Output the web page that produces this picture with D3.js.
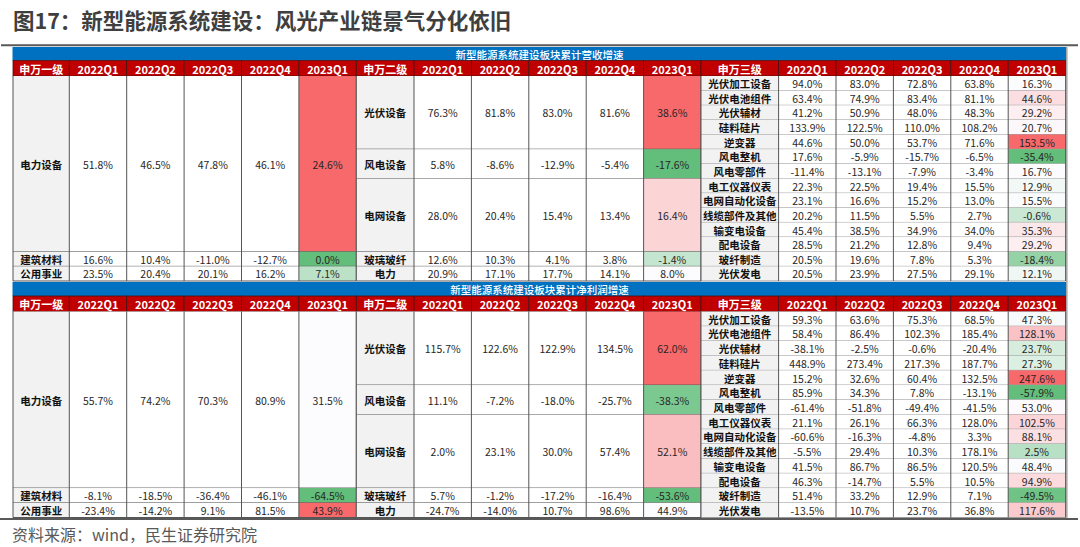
<!DOCTYPE html>
<html><head><meta charset="utf-8">
<script src="https://cdn.jsdelivr.net/npm/d3@7"></script>
<style>body{margin:0;background:#fff}svg{display:block}</style>
</head><body><svg id="c" width="1080" height="547"></svg>
<script>
// ---------- data ----------
const chartTitle = "图17：新型能源系统建设：风光产业链景气分化依旧";
const sourceNote = "资料来源：wind，民生证券研究院";
const tableTitles = ["新型能源系统建设板块累计营收增速", "新型能源系统建设板块累计净利润增速"];
const levelHeaders = ["申万一级", "申万二级", "申万三级"];
const quarters = ["2022Q1", "2022Q2", "2022Q3", "2022Q4", "2023Q1"];

const level1Names = ["电力设备", "建筑材料", "公用事业"];
const level1Spans = [12, 1, 1];
const level2Names = ["光伏设备", "风电设备", "电网设备", "玻璃玻纤", "电力"];
const level2Spans = [5, 2, 5, 1, 1];
const level3Names = ["光伏加工设备", "光伏电池组件", "光伏辅材", "硅料硅片", "逆变器", "风电整机", "风电零部件",
  "电工仪器仪表", "电网自动化设备", "线缆部件及其他", "输变电设备", "配电设备", "玻纤制造", "光伏发电"];
const level3Spans = level3Names.map(() => 1);

// 累计营收增速 (%)
const revenueL1 = [
  [51.8, 46.5, 47.8, 46.1, 24.6],
  [16.6, 10.4, -11.0, -12.7, 0.0],
  [23.5, 20.4, 20.1, 16.2, 7.1]
];
const revenueL2 = [
  [76.3, 81.8, 83.0, 81.6, 38.6],
  [5.8, -8.6, -12.9, -5.4, -17.6],
  [28.0, 20.4, 15.4, 13.4, 16.4],
  [12.6, 10.3, 4.1, 3.8, -1.4],
  [20.9, 17.1, 17.7, 14.1, 8.0]
];
const revenueL3 = [
  [94.0, 83.0, 72.8, 63.8, 16.3],
  [63.4, 74.9, 83.4, 81.1, 44.6],
  [41.2, 50.9, 48.0, 48.3, 29.2],
  [133.9, 122.5, 110.0, 108.2, 20.7],
  [44.6, 50.0, 53.7, 71.6, 153.5],
  [17.6, -5.9, -15.7, -6.5, -35.4],
  [-11.4, -13.1, -7.9, -3.4, 16.7],
  [22.3, 22.5, 19.4, 15.5, 12.9],
  [23.1, 16.6, 15.2, 13.0, 15.5],
  [20.2, 11.5, 5.5, 2.7, -0.6],
  [45.4, 38.5, 34.9, 34.0, 35.3],
  [28.5, 21.2, 12.8, 9.4, 29.2],
  [20.5, 19.6, 7.8, 5.3, -18.4],
  [20.5, 23.9, 27.5, 29.1, 12.1]
];
// 累计净利润增速 (%)
const profitL1 = [
  [55.7, 74.2, 70.3, 80.9, 31.5],
  [-8.1, -18.5, -36.4, -46.1, -64.5],
  [-23.4, -14.2, 9.1, 81.5, 43.9]
];
const profitL2 = [
  [115.7, 122.6, 122.9, 134.5, 62.0],
  [11.1, -7.2, -18.0, -25.7, -38.3],
  [2.0, 23.1, 30.0, 57.4, 52.1],
  [5.7, -1.2, -17.2, -16.4, -53.6],
  [-24.7, -14.0, 10.7, 98.6, 44.9]
];
const profitL3 = [
  [59.3, 63.6, 75.3, 68.5, 47.3],
  [58.4, 86.4, 102.3, 185.4, 128.1],
  [-38.1, -2.5, -0.6, -20.4, 23.7],
  [448.9, 273.4, 217.3, 187.7, 27.3],
  [15.2, 32.6, 60.4, 132.5, 247.6],
  [85.9, 34.3, 7.8, -13.1, -57.9],
  [-61.4, -51.8, -49.4, -41.5, 53.0],
  [21.1, 26.1, 66.3, 128.0, 102.5],
  [-60.6, -16.3, -4.8, 3.3, 88.1],
  [-5.5, 29.4, 10.3, 178.1, 2.5],
  [41.5, 86.7, 86.5, 120.5, 48.4],
  [46.3, -14.7, 5.5, 10.5, 94.9],
  [51.4, 33.2, 12.9, 7.1, -49.5],
  [-13.5, 10.7, 23.7, 36.8, 117.6]
];
// colour-scale midpoint per level (null = median of the highlighted column)
const revenueMids = [12.3, null, null];
const profitMids = [null, null, null];

// ---------- layout ----------
const FONT = "'Noto Sans CJK SC','Microsoft YaHei',sans-serif";
const svg = d3.select("#c");
const X0 = 13, X1 = 1066;
const nameW = [56.3, 57.7, 77.6], valW = 57.4;
const groupStart = [X0];
groupStart.push(groupStart[0] + nameW[0] + 5 * valW);
groupStart.push(groupStart[1] + nameW[1] + 5 * valW);

const tables = [
  {title: tableTitles[0], data: [revenueL1, revenueL2, revenueL3], mids: revenueMids,
   bandTop: 47, headTop: 60.5, bodyTop: 76, bodyBottom: 281},
  {title: tableTitles[1], data: [profitL1, profitL2, profitL3], mids: profitMids,
   bandTop: 282, headTop: 296, bodyTop: 311.5, bodyBottom: 517.5}
];
const levelNames = [level1Names, level2Names, level3Names];
const levelSpans = [level1Spans, level2Spans, level3Spans];

// title
svg.append("text").attr("x", 13).attr("y", 19).attr("dominant-baseline", "central")
  .attr("font-family", FONT).attr("font-size", 21.5).attr("font-weight", "bold")
  .attr("fill", "#3f3f3f").text(chartTitle);

svg.append("line").attr("x1", 1).attr("x2", 1078).attr("y1", 45.3).attr("y2", 45.3)
  .attr("stroke", "#595959").attr("stroke-width", 2);

tables.forEach(t => {
  const g = svg.append("g");
  // blue band
  g.append("rect").attr("x", X0 - 0.5).attr("y", t.bandTop).attr("width", X1 - X0 + 0.5)
    .attr("height", t.headTop - t.bandTop).attr("fill", "#0070C0");
  g.append("text").attr("x", (X0 + X1) / 2).attr("y", (t.bandTop + t.headTop) / 2 + 0.5)
    .attr("text-anchor", "middle").attr("dominant-baseline", "central")
    .attr("font-family", FONT).attr("font-size", 10.5).attr("font-weight", 500)
    .attr("fill", "#fff").text(t.title);

  const y = d3.scaleBand().domain(d3.range(level3Names.length)).range([t.bodyTop, t.bodyBottom]);
  const rowH = y.bandwidth();

  levelHeaders.forEach((hdr, li) => {
    const xs = groupStart[li];
    const xq = d3.scaleBand().domain(quarters).range([xs + nameW[li], xs + nameW[li] + 5 * valW]);
    // header
    const heads = [{x: xs, w: nameW[li], label: hdr}].concat(quarters.map(q => ({x: xq(q), w: xq.bandwidth(), label: q})));
    g.selectAll(null).data(heads).enter().append("rect")
      .attr("x", d => d.x).attr("y", t.headTop).attr("width", d => d.w).attr("height", t.bodyTop - t.headTop)
      .attr("fill", "#C00000").attr("stroke", "#4a1010").attr("stroke-width", 0.8);
    g.selectAll(null).data(heads).enter().append("text")
      .attr("x", d => d.x + d.w / 2).attr("y", (t.headTop + t.bodyTop) / 2 + 0.5)
      .attr("text-anchor", "middle").attr("dominant-baseline", "central")
      .attr("font-family", FONT).attr("font-size", 11).attr("font-weight", "bold")
      .attr("fill", "#fff").text(d => d.label);

    // body groups
    const spans = levelSpans[li];
    const starts = spans.map((s, i) => d3.sum(spans.slice(0, i)));
    const vals = t.data[li];
    const last = vals.map(r => r[4]);
    const mid = t.mids[li] == null ? d3.median(last) : t.mids[li];
    const color = d3.scaleLinear().domain([d3.min(last), mid, d3.max(last)])
      .range(["#63BE7B", "#FCFCFF", "#F8696B"]).interpolate(d3.interpolateRgb);

    const groups = levelNames[li].map((n, i) => ({name: n, r0: starts[i], span: spans[i], vals: vals[i]}));
    groups.forEach(gr => {
      const top = y(gr.r0), h = gr.span * rowH;
      g.append("rect").attr("x", xs).attr("y", top).attr("width", nameW[li]).attr("height", h).attr("fill", "#F2F2F2");
      g.append("text").attr("x", xs + nameW[li] / 2).attr("y", top + h / 2 + 0.3)
        .attr("text-anchor", "middle").attr("dominant-baseline", "central")
        .attr("font-family", FONT).attr("font-size", 10.5).attr("font-weight", "bold")
        .attr("fill", "#111").text(gr.name);
      quarters.forEach((q, qi) => {
        const v = gr.vals[qi];
        g.append("rect").attr("x", xq(q)).attr("y", top).attr("width", xq.bandwidth()).attr("height", h)
          .attr("fill", qi === 4 ? color(v) : "#fff");
        g.append("text").attr("x", xq(q) + xq.bandwidth() / 2).attr("y", top + h / 2 + 0.3)
          .attr("text-anchor", "middle").attr("dominant-baseline", "central")
          .attr("font-family", FONT).attr("font-size", 10.5)
          .attr("fill", "#262626").text(v.toFixed(1) + "%");
      });
      // horizontal boundary below group
      const yb = top + h;
      g.append("line").attr("x1", xs).attr("x2", xs + nameW[li] + 5 * valW).attr("y1", yb).attr("y2", yb)
        .attr("stroke", li === 2 ? "#9a9a9a" : "#555").attr("stroke-width", 1);
    });
    // vertical lines
    const edges = [xs, xs + nameW[li]].concat(quarters.map(q => xq(q) + xq.bandwidth()));
    g.selectAll(null).data(edges).enter().append("line")
      .attr("x1", d => d).attr("x2", d => d).attr("y1", t.bodyTop).attr("y2", t.bodyBottom)
      .attr("stroke", "#555").attr("stroke-width", 1);
  });
});

// right border
svg.append("line").attr("x1", X1 + 0.8).attr("x2", X1 + 0.8).attr("y1", 47).attr("y2", 518)
  .attr("stroke", "#a6a6a6").attr("stroke-width", 1.6);
// bottom rule
svg.append("line").attr("x1", 0).attr("x2", 1078).attr("y1", 519).attr("y2", 519)
  .attr("stroke", "#595959").attr("stroke-width", 2);

svg.append("text").attr("x", 12).attr("y", 534).attr("dominant-baseline", "central")
  .attr("font-family", FONT).attr("font-size", 16).attr("fill", "#595959").text(sourceNote);
</script>
</body></html>
